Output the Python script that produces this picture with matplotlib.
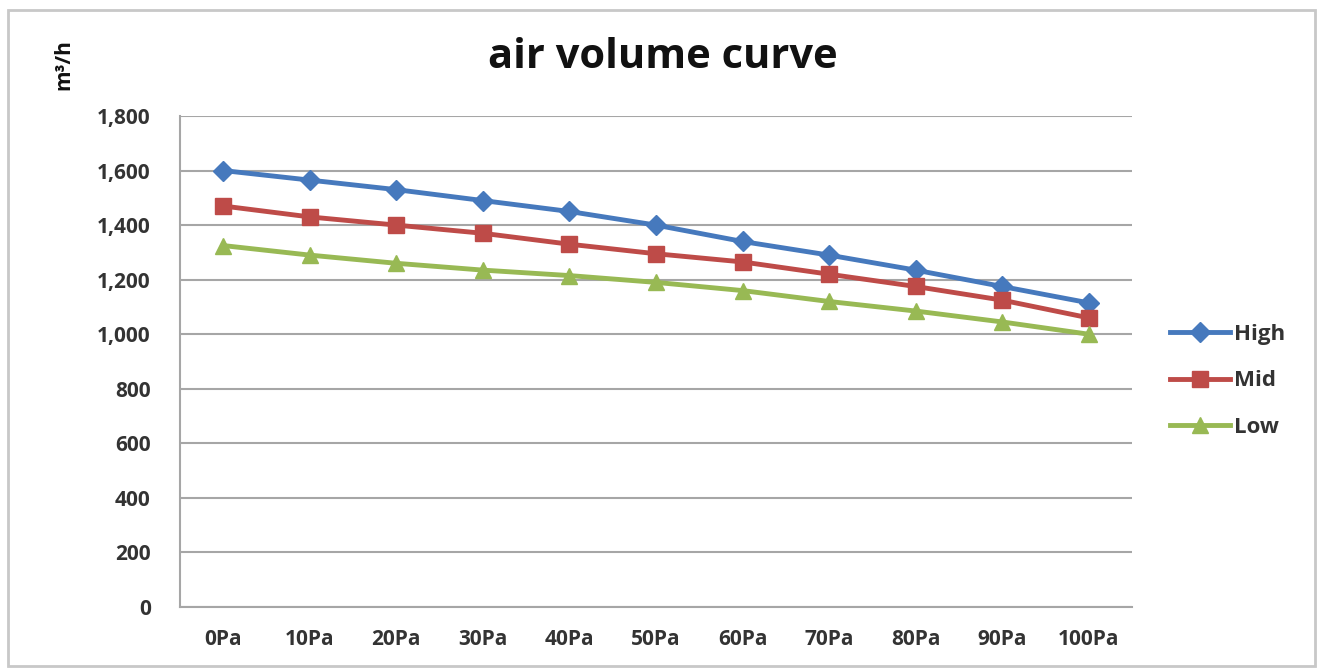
import matplotlib
matplotlib.use("Agg")
from matplotlib import pyplot as plt
from matplotlib.patches import Rectangle

# data
pressures = ["0Pa", "10Pa", "20Pa", "30Pa", "40Pa", "50Pa", "60Pa", "70Pa", "80Pa", "90Pa", "100Pa"]
high = [1600, 1565, 1530, 1490, 1450, 1400, 1340, 1290, 1235, 1175, 1115]
mid = [1470, 1430, 1400, 1370, 1330, 1295, 1265, 1220, 1175, 1125, 1060]
low = [1325, 1290, 1260, 1235, 1215, 1190, 1160, 1120, 1085, 1045, 1000]
yticks = [0, 200, 400, 600, 800, 1000, 1200, 1400, 1600, 1800]

plt.rcParams['font.family'] = ['Open Sans', 'DejaVu Sans']

W, H = 1322, 668
fig = plt.figure(figsize=(W / 100, H / 100), dpi=100)
fig.patch.set_facecolor("white")

# outer chart frame
fig.patches.append(Rectangle((8 / W, 2 / H), 1307 / W, 656 / H, transform=fig.transFigure,
                             fill=False, edgecolor="#c8c8c8", linewidth=2))

ax = fig.add_axes([180 / W, 1 - 607 / H, 952 / W, 491 / H])
x = list(range(len(pressures)))

ax.plot(x, high, color="#4679bd", lw=3.5, marker="D", ms=10, label="High")
ax.plot(x, mid, color="#be4b48", lw=3.5, marker="s", ms=11, label="Mid")
ax.plot(x, low, color="#98b954", lw=3.5, marker="^", ms=11, label="Low")

ax.set_xlim(-0.5, len(pressures) - 0.5)
ax.set_ylim(0, 1800)
ax.set_yticks(yticks)
ax.set_yticklabels([f"{v:,}" for v in yticks])
ax.set_xticks(x)
ax.set_xticklabels(pressures)
ax.grid(axis="y", color="#a6a6a6", lw=1.5)
ax.set_axisbelow(True)

for s in ["top", "right"]:
    ax.spines[s].set_visible(False)
for s in ["left", "bottom"]:
    ax.spines[s].set_color("#a6a6a6")
    ax.spines[s].set_linewidth(1.5)

ax.tick_params(axis="both", length=0, labelsize=15, colors="#333333")
ax.tick_params(axis="y", pad=21)
ax.tick_params(axis="x", pad=16)
for t in ax.get_xticklabels() + ax.get_yticklabels():
    t.set_fontweight("bold")

fig.text(663 / W, 1 - 58 / H, "air volume curve", ha="center", va="center",
         fontsize=30, fontweight="bold", color="#111111")
fig.text(64 / W, 1 - 65 / H, "m³/h", rotation=90, ha="center", va="center",
         fontsize=15, fontweight="bold", color="#111111")

leg = fig.legend(loc="center left", bbox_to_anchor=(1170 / W, 1 - 381 / H),
                 frameon=False, fontsize=16, handlelength=2.7, handletextpad=0.2,
                 labelspacing=1.15, borderpad=0, borderaxespad=0)
for t in leg.get_texts():
    t.set_fontweight("bold")
    t.set_color("#333333")

fig.savefig("out.png", dpi=100)
